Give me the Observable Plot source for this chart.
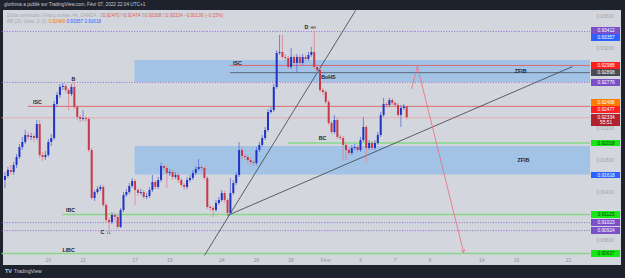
<!DOCTYPE html>
<html><head><meta charset="utf-8">
<script src="https://cdn.jsdelivr.net/npm/d3@7"></script>
<script src="https://cdn.jsdelivr.net/npm/@observablehq/plot@0.6"></script>
<style>
html,body{margin:0;padding:0;background:#1e222d;width:625px;height:278px;overflow:hidden;font-family:"Liberation Sans",Arial,sans-serif}
#wrap{position:relative;width:625px;height:278px}
#panel{position:absolute;left:3px;top:10px;width:618px;height:255px;background:#d3d6dd}
#chart{position:absolute;left:0;top:0}
#top{position:absolute;left:4px;top:2px;font-size:4.7px;color:#c9ccd4;white-space:nowrap}
.leg{position:absolute;left:7px;font-size:4.6px;white-space:nowrap;color:#a7aab3}
#brand{position:absolute;left:5px;top:268px;font-size:5px;color:#c9ccd4;white-space:nowrap}
#brand b{font-size:5.5px;margin-right:2px}
</style></head>
<body><div id="wrap">
<div id="panel"></div>
<div id="top">glorbima a publié sur TradingView.com, Févr 07, 2022 22:04 UTC+1</div>
<div id="chart"></div>
<div class="leg" id="leg1" style="top:12.5px"></div>
<div class="leg" id="leg2" style="top:19px"></div>
<div id="brand"><b>TV</b>TradingView</div>
</div>
<script>
// ---- candle data (USD/CHF, 4h) ----
const open = [0.91550,0.91600,0.91675,0.91650,0.91738,0.91838,0.91963,0.92025,0.92113,0.92088,
0.92100,0.92075,0.92250,0.91863,0.91838,0.91863,0.92025,0.92075,0.92500,0.92613,
0.92713,0.92725,0.92675,0.92625,0.92713,0.92463,0.92338,0.92313,0.92325,0.92313,
0.91925,0.91325,0.91400,0.91438,0.91463,0.91238,0.91050,0.91025,0.91113,0.91088,
0.90963,0.91175,0.91363,0.91400,0.91475,0.91538,0.91425,0.91388,0.91400,0.91338,
0.91350,0.91425,0.91525,0.91463,0.91550,0.91725,0.91700,0.91638,0.91650,0.91588,
0.91613,0.91550,0.91488,0.91463,0.91550,0.91575,0.91638,0.91688,0.91713,0.91700,
0.91575,0.91213,0.91200,0.91175,0.91263,0.91300,0.91388,0.91300,0.91138,0.91388,
0.91513,0.91613,0.91925,0.91850,0.91838,0.91800,0.91775,0.91763,0.91925,0.91988,
0.92075,0.92175,0.92400,0.92425,0.92713,0.93138,0.93150,0.93088,0.93075,0.92963,
0.93088,0.93013,0.93088,0.93013,0.93088,0.93063,0.93113,0.93150,0.92963,0.92925,
0.92675,0.92650,0.92525,0.92263,0.92150,0.92300,0.92088,0.92075,0.91988,0.91925,
0.91888,0.91950,0.91963,0.91925,0.92050,0.92213,0.91950,0.92013,0.91950,0.92013,
0.92113,0.92363,0.92500,0.92488,0.92550,0.92513,0.92488,0.92363,0.92450,0.92470];
const high = [0.91650,0.91713,0.91738,0.91775,0.91875,0.92000,0.92088,0.92175,0.92150,0.92138,
0.92125,0.92300,0.92300,0.91900,0.91913,0.92063,0.92125,0.92538,0.92650,0.92750,
0.92763,0.92750,0.92700,0.92750,0.92776,0.92488,0.92363,0.92425,0.92350,0.92338,
0.91950,0.91425,0.91475,0.91488,0.91488,0.91263,0.91088,0.91150,0.91138,0.91113,
0.91200,0.91400,0.91438,0.91513,0.91575,0.91563,0.91450,0.91438,0.91425,0.91388,
0.91463,0.91613,0.91550,0.91588,0.91763,0.91738,0.91725,0.91688,0.91675,0.91650,
0.91638,0.91575,0.91513,0.91588,0.91613,0.91675,0.91725,0.91813,0.91738,0.91725,
0.91600,0.91238,0.91225,0.91300,0.91338,0.91425,0.91413,0.91325,0.91575,0.91550,
0.91650,0.92025,0.91963,0.91875,0.91863,0.91825,0.91800,0.91963,0.92025,0.92113,
0.92213,0.92438,0.92463,0.92750,0.93175,0.93363,0.93363,0.93125,0.93100,0.93200,
0.93113,0.93125,0.93113,0.93125,0.93113,0.93150,0.93213,0.93412,0.92988,0.92950,
0.92700,0.92675,0.92550,0.92288,0.92363,0.92325,0.92113,0.92100,0.92013,0.91950,
0.91988,0.92000,0.91988,0.92088,0.92338,0.92238,0.92050,0.92038,0.92050,0.92150,
0.92400,0.92575,0.92525,0.92575,0.92575,0.92538,0.92513,0.92488,0.92500,0.92474];
const low = [0.91450,0.91575,0.91613,0.91613,0.91700,0.91813,0.91925,0.92000,0.92050,0.92050,
0.92025,0.92050,0.91825,0.91788,0.91800,0.91838,0.91975,0.92050,0.92463,0.92575,
0.92675,0.92638,0.92425,0.92600,0.92438,0.92300,0.92275,0.92288,0.92275,0.91900,
0.91300,0.91288,0.91375,0.91413,0.91213,0.91013,0.90924,0.91000,0.91038,0.90938,
0.90950,0.91150,0.91338,0.91375,0.91450,0.91238,0.91350,0.91363,0.91313,0.91313,
0.91325,0.91400,0.91438,0.91438,0.91525,0.91663,0.91450,0.91600,0.91550,0.91563,
0.91513,0.91463,0.91425,0.91438,0.91525,0.91550,0.91613,0.91663,0.91663,0.91550,
0.91188,0.91163,0.91088,0.91150,0.91238,0.91275,0.91263,0.91100,0.91113,0.91363,
0.91488,0.91588,0.91813,0.91800,0.91763,0.91738,0.91725,0.91738,0.91900,0.91963,
0.92050,0.92150,0.92375,0.92400,0.92688,0.93113,0.93063,0.93038,0.92938,0.92938,
0.92988,0.92900,0.92988,0.92988,0.93038,0.93038,0.93088,0.92938,0.92888,0.92650,
0.92613,0.92500,0.92238,0.92125,0.92125,0.92063,0.92050,0.91800,0.91800,0.91863,
0.91863,0.91925,0.91900,0.91900,0.92025,0.91763,0.91925,0.91925,0.91925,0.91988,
0.92088,0.92338,0.92463,0.92463,0.92488,0.92463,0.92338,0.92213,0.92425,0.92308];
const close = [0.91600,0.91675,0.91650,0.91738,0.91838,0.91963,0.92025,0.92113,0.92088,0.92100,
0.92075,0.92250,0.91863,0.91838,0.91863,0.92025,0.92075,0.92500,0.92613,0.92713,
0.92725,0.92675,0.92625,0.92713,0.92463,0.92338,0.92313,0.92325,0.92313,0.91925,
0.91325,0.91400,0.91438,0.91463,0.91238,0.91050,0.91025,0.91113,0.91088,0.90963,
0.91175,0.91363,0.91400,0.91475,0.91538,0.91425,0.91388,0.91400,0.91338,0.91350,
0.91425,0.91525,0.91463,0.91550,0.91725,0.91700,0.91638,0.91650,0.91588,0.91613,
0.91550,0.91488,0.91463,0.91550,0.91575,0.91638,0.91688,0.91713,0.91700,0.91575,
0.91213,0.91200,0.91175,0.91263,0.91300,0.91388,0.91300,0.91138,0.91388,0.91513,
0.91613,0.91925,0.91850,0.91838,0.91800,0.91775,0.91763,0.91925,0.91988,0.92075,
0.92175,0.92400,0.92425,0.92713,0.93138,0.93150,0.93088,0.93075,0.92963,0.93088,
0.93013,0.93088,0.93013,0.93088,0.93063,0.93113,0.93150,0.92963,0.92925,0.92675,
0.92650,0.92525,0.92263,0.92150,0.92300,0.92088,0.92075,0.91988,0.91925,0.91888,
0.91950,0.91963,0.91925,0.92050,0.92213,0.91950,0.92013,0.91950,0.92013,0.92113,
0.92363,0.92500,0.92488,0.92550,0.92513,0.92488,0.92363,0.92450,0.92470,0.92334];

// ---- time axis (candle index of each labelled day) ----
const tickIndex = [15, 27, 45, 57, 75, 87, 99, 111, 123, 135, 147, 165, 177, 195];
const tickLabels = ["10","12","17","19","24","26","28","Févr","3","7","9","14","16","21"];
const priceTicks = [0.936, 0.932, 0.922, 0.918, 0.914, 0.908];

// ---- drawings ----
const zoneStart = [45, 45];
const zoneTop = [0.93050, 0.91975];
const zoneBottom = [0.92776, 0.91618];

const levelPrice = [0.93412, 0.92776, 0.91023, 0.90924, 0.92988, 0.92898, 0.92477, 0.92018, 0.91125, 0.90637, 0.92334];
const levelStart = [-1, -1, -1, -1, 78, 78, 8, 98, 20, -1, -1];
const levelKind = ["dot","dot","dot","dot","red","slate","red","green","green","green","last"];

const trendX1 = [69, 77];
const trendY1 = [0.906125, 0.91113];
const trendX2 = [121.3, 196.4];
const trendY2 = [0.93675, 0.92975];

const arrowX = [140.7, 142.7, 158.7];
const arrowY = [0.92700, 0.92975, 0.90650];

const noteText = ["B","ISC","IBC","C","LIBC","ISC","BoHS","BC","D","ZFIB","ZFIB"];
const noteX = [23.7, 11.2, 22.7, 33.7, 22, 80.4, 111.9, 109.9, 104.3, 178.4, 179.4];
const noteY = [0.92813, 0.92525, 0.91175, 0.90900, 0.90675, 0.93013, 0.92838, 0.92075, 0.93463, 0.92913, 0.91800];
const subText = ["LL", "HH"];
const subX = [36.0, 106.6];
const subY = [0.90890, 0.93455];

const labelPrice = [0.93412, 0.93357, 0.92988, 0.92898, 0.92776, 0.92488, 0.92477, 0.92334, 0.92018, 0.91618, 0.91125, 0.91023, 0.90924, 0.90637];
const labelColor = ["#7b4fc8","#2962ff","#ff1f1f","#4a4d57","#7b4fc8","#ff7a00","#ff1f1f","#b0222e","#19e619","#2962ff","#19e619","#7b4fc8","#7b4fc8","#19e619"];
const labelInk = ["#fff","#fff","#fff","#fff","#fff","#fff","#fff","#fff","#0b3d0b","#fff","#0b3d0b","#fff","#fff","#0b3d0b"];
const countdown = "55:51";

// ---- layout ----
const W = 625, H = 278, mL = 3, mR = 35, mT = 10, mB = 23;
const xDomain = [-0.519, 202.595];
const yDomain = [0.906125, 0.93675];
const xMax = xDomain[1];
const boxX1 = 203, boxX2 = 213, boxTextX = 208;

const up = "#1f33c4", upWick = "#5b6bd8", down = "#c73a48", downWick = "#e0838c";

const candles = close.map((c, i) => ({i, o: open[i], h: high[i], l: low[i], c}));
const zones = zoneStart.map((s, i) => ({s, t: zoneTop[i], b: zoneBottom[i]}));
const levels = levelPrice.map((p, i) => ({p, s: levelStart[i], k: levelKind[i]}));
const trends = trendX1.map((x, i) => ({x1: x, y1: trendY1[i], x2: trendX2[i], y2: trendY2[i]}));
const notes = noteText.map((t, i) => ({t, x: noteX[i], y: noteY[i]}));
const subs = subText.map((t, i) => ({t, x: subX[i], y: subY[i]}));
const tickMap = new Map(tickIndex.map((d, i) => [d, tickLabels[i]]));

// price label layout (avoid overlaps like the price scale does)
const ys = Plot.scale({y: {domain: yDomain, range: [H - mB, mT]}});
const px = labelPrice.map(p => ys.apply(p));
const order = d3.range(px.length).sort((a, b) => px[a] - px[b]);
for (let it = 0; it < 60; it++) {
  for (let k = 0; k < order.length - 1; k++) {
    const a = order[k], b = order[k + 1];
    const gap = px[b] - px[a];
    if (gap < 7.2) { const s = (7.2 - gap) / 2; px[a] -= s; px[b] += s; }
  }
}
const fmt = d3.format(".5f");
const lastIdx = labelPrice.indexOf(close[close.length - 1]);
if (lastIdx >= 0) px[lastIdx] -= 0.8;
const labels = labelPrice.map((p, i) => ({y: ys.invert(px[i]), text: fmt(p), color: labelColor[i], ink: labelInk[i]}));
if (lastIdx >= 0) {
  labels.push({y: ys.invert(px[lastIdx] + 5.8), text: countdown, color: labelColor[lastIdx], ink: labelInk[lastIdx]});
}

const levelStyle = {
  dot: {stroke: "#8a5fd0", strokeWidth: 0.9, strokeDasharray: "1,1.6"},
  red: {stroke: "#dc6a72", strokeWidth: 1},
  slate: {stroke: "#5d6679", strokeWidth: 1},
  green: {stroke: "#86d886", strokeWidth: 1.4},
  last: {stroke: "#e6a3ab", strokeWidth: 0.8}
};
const levelMarks = Object.keys(levelStyle).map(k =>
  Plot.ruleY(levels.filter(d => d.k === k), {y: "p", x1: "s", x2: xMax, ...levelStyle[k]}));

const chart = Plot.plot({
  width: W, height: H,
  marginLeft: mL, marginRight: mR, marginTop: mT, marginBottom: mB,
  x: {domain: xDomain},
  y: {domain: yDomain},
  color: {type: "identity"},
  style: {fontFamily: "Liberation Sans, Arial, sans-serif", background: "transparent", overflow: "visible"},
  marks: [
    Plot.rect(zones, {x1: "s", x2: xMax, y1: "b", y2: "t", fill: "#a2c3e6"}),
    ...levelMarks,
    Plot.link(trends, {x1: "x1", y1: "y1", x2: "x2", y2: "y2", stroke: "#3c3f47", strokeWidth: 0.8}),
    Plot.ruleX(candles, {x: "i", y1: "l", y2: "h", stroke: d => d.c >= d.o ? upWick : downWick, strokeWidth: 0.8}),
    Plot.ruleX(candles, {x: "i", y1: "o", y2: "c", stroke: d => d.c >= d.o ? up : down, strokeWidth: 2}),
    Plot.line(arrowX.slice(0, 2).map((x, i) => ({x, y: arrowY[i]})), {x: "x", y: "y", stroke: "#ee6b78", strokeWidth: 0.8}),
    Plot.arrow([{x1: arrowX[1], y1: arrowY[1], x2: arrowX[2], y2: arrowY[2]}], {x1: "x1", y1: "y1", x2: "x2", y2: "y2", stroke: "#ee6b78", strokeWidth: 0.8, headLength: 6}),
    Plot.text(notes, {x: "x", y: "y", text: "t", fontSize: 5.3, fontWeight: "bold", fill: "#1e2230"}),
    Plot.text(subs, {x: "x", y: "y", text: "t", fontSize: 3.6, fill: "#1e2230"}),
    Plot.ruleY(labels, {y: "y", x1: boxX1, x2: boxX2, stroke: "color", strokeWidth: 6.8, shapeRendering: "crispEdges"}),
    Plot.text(labels, {y: "y", x: boxTextX, text: "text", fill: "ink", fontSize: 4.8}),
    Plot.axisX({ticks: tickIndex, tickFormat: d => tickMap.get(d), tickSize: 0, tickPadding: 3, fontSize: 5, fill: "#8e919a"}),
    Plot.axisY({anchor: "right", ticks: priceTicks, tickFormat: fmt, tickSize: 0, tickPadding: 6, fontSize: 4.8, fill: "#9fa2ab"})
  ]
});
document.getElementById("chart").appendChild(chart);

// legend rows
const last = close.length - 1;
const chg = close[last] - close[last - 1];
const pct = chg / close[last - 1] * 100;
const red = "#e05a5a";
const s = (t, c) => `<span style="color:${c}">${t}</span>`;
document.getElementById("leg1").innerHTML =
  "Dollar américain / Franc suisse, 4h, OANDA&nbsp; " +
  "O" + s(open[last].toFixed(5), red) + " H" + s(high[last].toFixed(5), red) +
  " B" + s(low[last].toFixed(5), red) + " C" + s(close[last].toFixed(5), red) + " " +
  s((chg < 0 ? "−" : "+") + Math.abs(chg).toFixed(5) + " (" + (pct < 0 ? "−" : "+") + Math.abs(pct).toFixed(2) + "%)", red);
document.getElementById("leg2").innerHTML =
  "BB (20, close, 2, 0)&nbsp; " + s(fmt(labelPrice[5]), "#ff7a00") + " " + s(fmt(labelPrice[1]), "#2962ff") + " " + s(fmt(labelPrice[9]), "#2962ff");
</script>
</body></html>
